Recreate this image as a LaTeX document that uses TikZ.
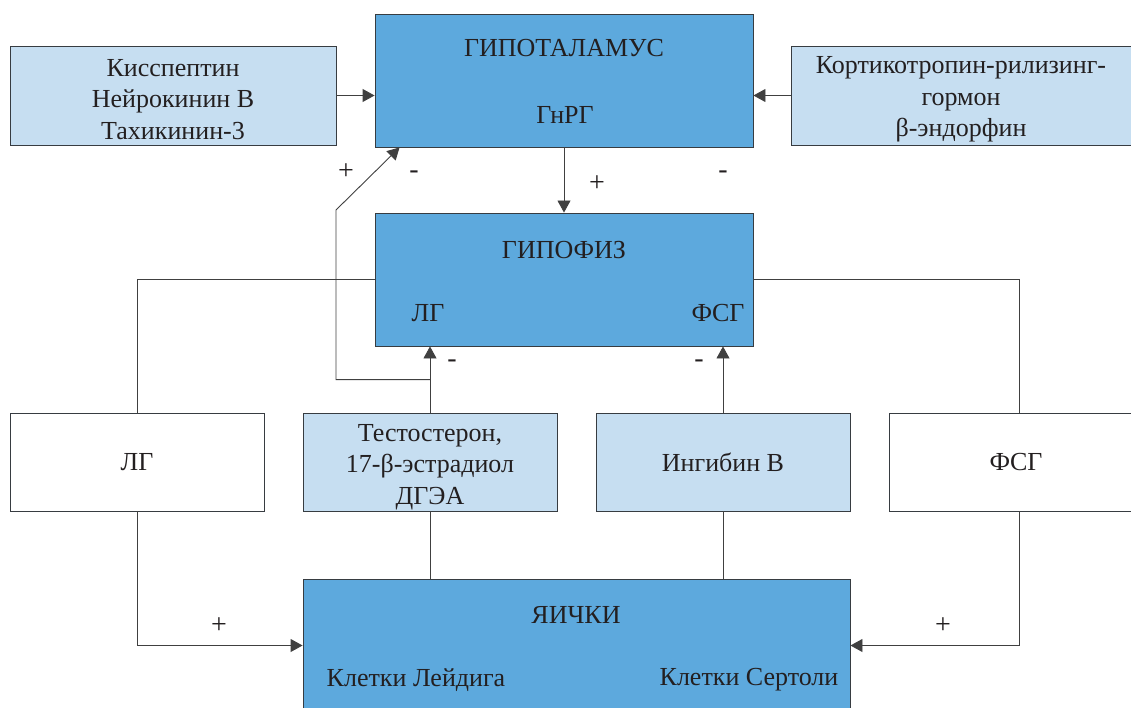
\documentclass[tikz,border=0pt]{standalone}
\usepackage{fontspec}
\setmainfont{Liberation Serif}
\usetikzlibrary{arrows.meta,positioning,calc}
\definecolor{glandblue}{RGB}{93,169,221}
\definecolor{paleblue}{RGB}{198,222,241}
\definecolor{edgegray}{RGB}{55,60,65}
\definecolor{textdark}{RGB}{35,31,32}

\tikzset{
  gland/.style={draw=edgegray, fill=glandblue, line width=0.9pt, inner sep=0pt},
  factor/.style={draw=edgegray, fill=paleblue, line width=0.9pt, inner sep=0pt,
    align=center, text=textdark, font=\fontsize{26}{32}\selectfont},
  hormone/.style={factor, fill=white},
  lbl/.style={text=textdark, align=center, font=\fontsize{26}{31.5}\selectfont},
  sign/.style={text=textdark, font=\fontsize{28}{30}\selectfont},
  link/.style={line width=0.9pt, draw=black!75},
  arr/.style={link, -{Triangle[length=12pt,width=13pt]}},
}

\begin{document}
\begin{tikzpicture}[x=1pt,y=-1pt]
    \useasboundingbox (0,0) rectangle (1131,708);

    % Glands
    \node[gland, minimum width=378, minimum height=133] (hypothalamus) at (564,80.5) {};
    \node[gland, minimum width=378, minimum height=133] (hypophysis) at (564,279.5) {};
    \node[gland, minimum width=547, minimum height=133] (testes) at (576.5,645.5) {};

    \node[lbl] (hypotitle) at (564,48) {ГИПОТАЛАМУС};
    \node[lbl] (gnrh) at (565,115) {ГнРГ};
    \node[lbl] (hypophtitle) at (564,250) {ГИПОФИЗ};
    \node[lbl] (lhout) at (428,313) {ЛГ};
    \node[lbl] (fshout) at (718,313) {ФСГ};
    \node[lbl] (testestitle) at (576,615) {ЯИЧКИ};
    \node[lbl] (leydig) at (416,680) {Клетки Лейдига};
    \node[lbl] (sertoli) at (749,680) {Клетки Сертоли};

    % Modulators of the hypothalamus
    \node[factor, minimum width=326, minimum height=99] (kiss) at (173,95.5) {};
    \node[lbl] (kisstext) at ($(kiss.center)+(0,4)$)
        {Кисспептин\\Нейрокинин В\\Тахикинин-3};
    \node[factor, minimum width=344, minimum height=99] (crh) at (963,95.5) {};
    \node[lbl] (crhtext) at ($(crh.center)+(-2,4)$)
        {Кортикотропин-рилизинг-\\гормон\\β-эндорфин};

    % Middle row
    \node[hormone, minimum width=254, minimum height=98] (lh) at (137,462) {ЛГ};
    \node[factor, minimum width=254, minimum height=98] (steroids) at (430,462) {};
    \node[lbl] (steroidtext) at ($(steroids.center)+(0,5)$)
        {Тестостерон,\\17-β-эстрадиол\\ДГЭА};
    \node[factor, minimum width=254, minimum height=98] (inhibin) at (723,462) {Ингибин В};
    \node[hormone, minimum width=260, minimum height=98] (fsh) at (1019,462) {};
    \node[lbl] (fshtext) at (1016,462) {ФСГ};

    % Axis connectors
    \draw[arr] (kiss.east) -- (kiss.east -| hypothalamus.west);
    \draw[arr] (crh.west) -- (crh.west -| hypothalamus.east);
    \draw[arr] (hypothalamus.south) -- (hypophysis.north);
    \draw[link] (hypophysis.west) -| (lh.north);
    \draw[link] (hypophysis.east) -| (fsh.north);
    \draw[arr] (lh.south) |- (testes.west);
    \draw[arr] (fsh.south) |- (testes.east);

    % Feedback
    \draw[link] (steroids.south) -- (steroids.south |- testes.north);
    \draw[link] (inhibin.south) -- (inhibin.south |- testes.north);
    \draw[arr] (steroids.north) -- (steroids.north |- hypophysis.south);
    \draw[arr] (inhibin.north) -- (inhibin.north |- hypophysis.south);
    \coordinate (fbk) at ($(steroids.north)+(0,-33)$);
    \coordinate (knee) at (336,210);
    \coordinate (gnrhin) at ($(hypothalamus.south west)+(25,0)$);
    \draw[arr] (fbk) -| (knee) -- (gnrhin);

    % Signs
    \node[sign] (s1) at (346,172) {+};
    \node[sign] (s2) at (414,175) {-};
    \node[sign] (s3) at (723,175) {-};
    \node[sign] (s4) at (597,184) {+};
    \node[sign] (s5) at (452,364) {-};
    \node[sign] (s6) at (699,364) {-};
    \node[sign] (s7) at (219,626) {+};
    \node[sign] (s8) at (943,626) {+};
\end{tikzpicture}
\end{document}
